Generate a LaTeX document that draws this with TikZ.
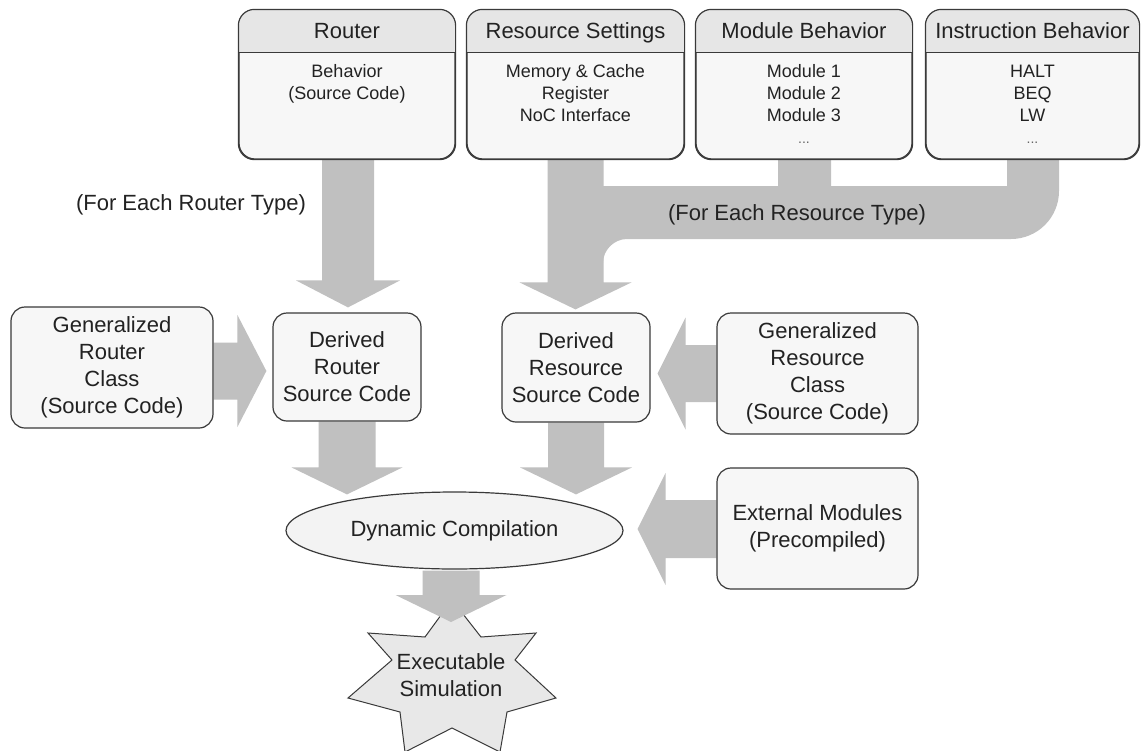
\documentclass[tikz,border=0pt]{standalone}
\usepackage{fontspec}
\setmainfont{Liberation Sans}
\usetikzlibrary{calc,shapes.geometric,backgrounds}
\pgfdeclarelayer{bottom}
\pgfsetlayers{bottom,background,main}
\definecolor{blk}{HTML}{C0C0C0}
\definecolor{bcol}{HTML}{3A3A3A}
\definecolor{bodyfill}{HTML}{F7F7F7}
\definecolor{hdrfill}{HTML}{E6E6E6}
\definecolor{ellfill}{HTML}{F3F3F3}
\definecolor{starfill}{HTML}{E8E8E8}
\definecolor{tcol}{HTML}{222222}
\definecolor{dotcol}{HTML}{666666}

\newcommand{\blkdown}[4]{%
  \fill[blk] let \p1=(#1), \p2=(#2) in
    (\x2-#3,\y1) -- (\x2+#3,\y1) -- (\x2+#3,\y2+27pt) -- (\x2+#4,\y2+27pt) --
    (\x2,\y2) -- (\x2-#4,\y2+27pt) -- (\x2-#3,\y2+27pt) -- cycle;}
\newcommand{\blkright}[4]{%
  \fill[blk] let \p1=(#1), \p2=(#2) in
    (\x1,\y2+#3) -- (\x2-29pt,\y2+#3) -- (\x2-29pt,\y2+#4) -- (\x2,\y2) --
    (\x2-29pt,\y2-#4) -- (\x2-29pt,\y2-#3) -- (\x1,\y2-#3) -- cycle;}
\newcommand{\blkleft}[4]{%
  \fill[blk] let \p1=(#1), \p2=(#2) in
    (\x1,\y2+#3) -- (\x2+28pt,\y2+#3) -- (\x2+28pt,\y2+#4) -- (\x2,\y2) --
    (\x2+28pt,\y2-#4) -- (\x2+28pt,\y2-#3) -- (\x1,\y2-#3) -- cycle;}

\tikzset{
  topbox/.style={draw=bcol, line width=1.2pt, fill=bodyfill, rounded corners=16pt,
    inner sep=0pt, minimum height=149pt},
  midbox/.style={draw=bcol, line width=1.2pt, fill=bodyfill, rounded corners=14pt,
    inner sep=0pt, align=center, text=tcol, font=\fontsize{22}{27}\selectfont},
  hdrtext/.style={anchor=base, inner sep=0pt, text=tcol, font=\fontsize{22}{27}\selectfont},
  bodytext/.style={anchor=north, inner sep=0pt, align=center, text=tcol, font=\fontsize{18}{22}\selectfont},
  lbl/.style={inner sep=0pt, text=tcol, font=\fontsize{22}{27}\selectfont},
}

\begin{document}
\begin{tikzpicture}[x=1pt,y=-1pt]
\useasboundingbox (0,0) rectangle (1141,750);
\begin{pgfonlayer}{bottom}
  \fill[white] (0,0) rectangle (1141,750);
\end{pgfonlayer}

% top boxes
\node[topbox, minimum width=216pt] (router) at (347,84.5) {};
\node[topbox, minimum width=217pt] (res) at (575.5,84.5) {};
\node[topbox, minimum width=216pt] (mod) at (804,84.5) {};
\node[topbox, minimum width=213pt] (inst) at (1032.5,84.5) {};
\foreach \n in {router,res,mod,inst}{
  \begin{scope}
    \clip[rounded corners=16pt] (\n.south west) rectangle (\n.north east);
    \fill[hdrfill] (\n.north west) rectangle ($(\n.north east)+(0,43)$);
  \end{scope}
  \draw[bcol, line width=1.2pt] ($(\n.north west)+(0,43)$) -- ($(\n.north east)+(0,43)$);
  \draw[bcol, line width=1.2pt, rounded corners=16pt] (\n.south west) rectangle (\n.north east);
}
\node[hdrtext] (routerh) at ($(router.north)+(0,29)$) {Router};
\node[hdrtext] (resh) at ($(res.north)+(0,29)$) {Resource Settings};
\node[hdrtext] (modh) at ($(mod.north)+(0,29)$) {Module Behavior};
\node[hdrtext] (insth) at ($(inst.north)+(0,29)$) {Instruction Behavior};
\node[bodytext] (routerb) at ($(router.north)+(0,52)$) {\strut Behavior\\(Source Code)};
\node[bodytext] (resb) at ($(res.north)+(0,52)$) {\strut Memory \& Cache\\Register\\NoC Interface};
\node[bodytext] (modb) at ($(mod.north)+(0,52)$) {\strut Module 1\\Module 2\\Module 3\\{\fontsize{14}{22}\selectfont\color{dotcol}...}};
\node[bodytext] (instb) at ($(inst.north)+(0,52)$) {\strut HALT\\BEQ\\LW\\{\fontsize{14}{22}\selectfont\color{dotcol}...}};

% middle boxes
\node[midbox, minimum width=202pt, minimum height=121pt] (grouter) at (112,367.5) {Generalized\\Router\\Class\\(Source Code)};
\node[midbox, minimum width=148pt, minimum height=108pt] (drouter) at (347,367) {Derived\\Router\\Source Code};
\node[midbox, minimum width=148pt, minimum height=109pt] (dres) at (576,367.5) {Derived\\Resource\\Source Code};
\node[midbox, minimum width=201pt, minimum height=121pt] (gres) at (817.5,373.5) {Generalized\\Resource\\Class\\(Source Code)};
\node[midbox, minimum width=201pt, minimum height=121pt] (ext) at (817.5,528.5) {External Modules\\(Precompiled)};
\node[ellipse, draw=bcol, line width=1.2pt, fill=ellfill, inner sep=0pt, minimum width=337pt, minimum height=77pt,
      text=tcol, font=\fontsize{22}{27}\selectfont] (dc) at (454.5,530.5) {Dynamic Compilation};

% star
\coordinate (startip) at (451,622);
\filldraw[fill=starfill, draw=bcol, line width=1pt] (452,600) -- (481,637) -- (536,633) -- (515,660) -- (556,698) -- (507,712)
  -- (500,752) -- (452,728) -- (405,752) -- (400,712) -- (348,698) -- (392,660) -- (368,633) -- (425,637) -- cycle;
\node[lbl, align=center] (star) at (451,675) {Executable\\Simulation};
\coordinate (dcbot) at ($(dc.south)+(0,1)$);
\blkdown{dcbot}{startip}{28.5pt}{55.5pt}

% labels
\node[lbl] (lrouter) at (191,205) {(For Each Router Type)};

\begin{pgfonlayer}{background}
  % combined bar for resource type
  \fill[blk] (598,186) -- (778,186) -- (778,159) -- (831,159) -- (831,186) -- (1007,186) -- (1007,159) -- (1059,159)
    -- (1059,191) .. controls (1059,217.5) and (1037.5,239) .. (1011,239) -- (627,239)
    .. controls (614,239) and (603,250) .. (603,263) -- (598,263) -- cycle;
  \blkdown{router.south}{$(drouter.north)+(1,-5)$}{26pt}{52pt}
  \blkdown{res.south}{$(dres.north)+(-0.5,-3)$}{28pt}{56pt}
  \blkdown{drouter.south}{$(drouter.south |- dc.north)+(0,3)$}{28.5pt}{55.5pt}
  \blkdown{dres.south}{$(dres.south |- dc.north)+(0,3)$}{28pt}{56pt}
  \blkright{grouter.east}{$(drouter.west)+(-6,4)$}{28.5pt}{56pt}
  \blkleft{gres.west}{$(dres.east)+(7,6)$}{28.5pt}{56pt}
  \blkleft{ext.west}{$(dc.east)+(14,-1.5)$}{29pt}{56pt}
\end{pgfonlayer}
\node[lbl] (lres) at (797,215) {(For Each Resource Type)};
\end{tikzpicture}
\end{document}
